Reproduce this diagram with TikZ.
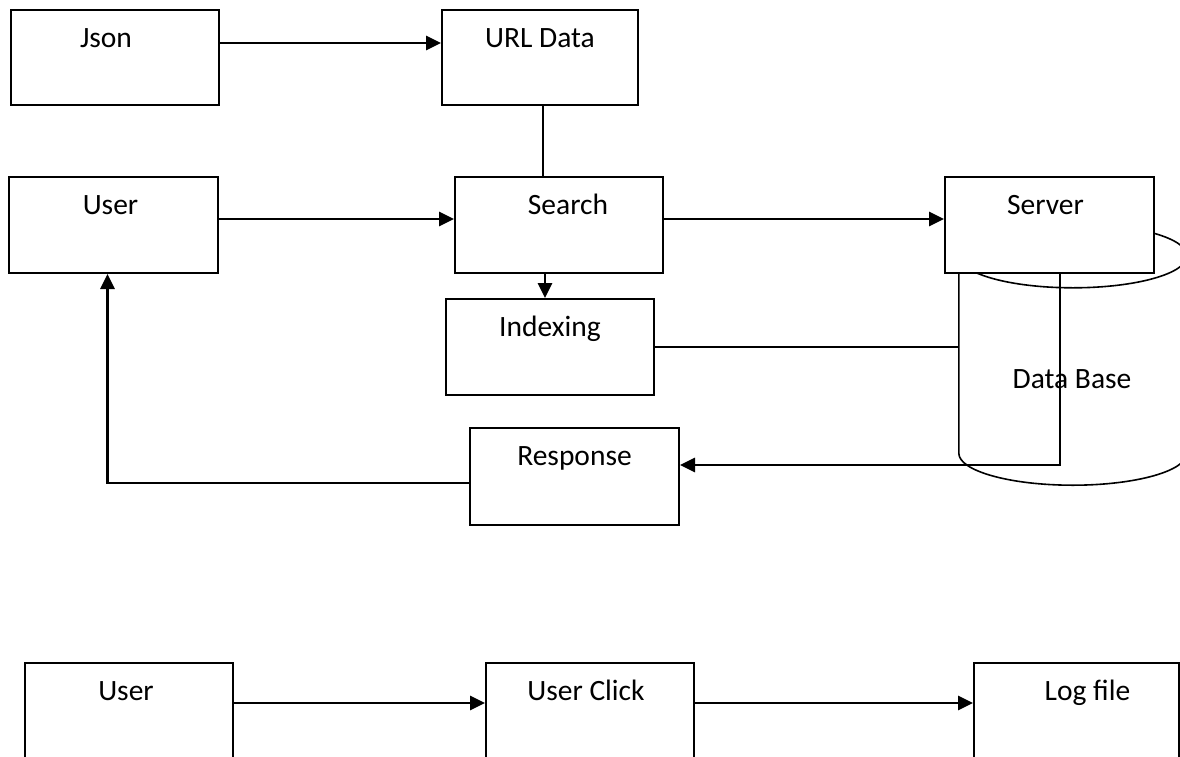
\documentclass[tikz,border=0pt]{standalone}
\usepackage{fontspec}
\setmainfont{Carlito}
\usetikzlibrary{arrows.meta}
\newcommand{\boxfont}{\fontsize{29.5}{35}\selectfont}
\tikzset{
	txt/.style={anchor=base, yshift=-38pt, font=\boxfont},
	box/.style 2 args={draw, fill=white, line width=2pt, anchor=north west, inner sep=0pt,
		label={[txt, xshift=#2]north:#1}},
	arr/.style={line width=2.7pt, -{Triangle[length=15pt, width=14pt]}},
	ln/.style={line width=2.4pt},
}
\begin{document}
\begin{tikzpicture}[x=1pt, y=-1pt]
	\useasboundingbox (0,0) rectangle (1180,756);
	% data base
	\node[inner sep=0pt, minimum width=228, minimum height=197] (db) at (1073,354.5) {};
	\draw[line width=1.6pt](db.north) ellipse[x radius=114pt, y radius=32pt];
	\draw[line width=1.6pt](db.north west)--(db.south west) arc[start angle=180, end angle=360, x radius=114pt, y radius=32pt]--(db.north east);
	\node[font=\boxfont, anchor=base] (dbtxt) at (1072,388) {Data Base};
	% top row
	\node[box={Json}{-9}, minimum width=208, minimum height=95] (json) at (10,9) {};
	\node[box={URL Data}{0}, minimum width=196, minimum height=95] (url) at (441,9) {};
	\draw[arr]([yshift=14.5]json.east)--([yshift=14.5]url.west);
	% search row
	\node[box={User}{-3}, minimum width=209, minimum height=96] (user) at (8,176) {};
	\node[box={Search}{9}, minimum width=208, minimum height=96] (search) at (454,176) {};
	\node[box={Server}{-4}, minimum width=209, minimum height=96] (server) at (944,176) {};
	\node[box={Indexing}{0}, minimum width=208, minimum height=96] (idx) at (445,298) {};
	\node[box={Response}{0}, minimum width=209, minimum height=97] (resp) at (469,427) {};
	\draw[ln]([xshift=3]url.south)--([xshift=3]url.south |- search.north);
	\draw[arr]([yshift=6]user.east)--([yshift=6]search.west);
	\draw[arr]([yshift=6]search.east)--([yshift=6]server.west);
	\draw[arr]([xshift=-14]search.south)--([xshift=-14]search.south |- idx.north);
	\draw[ln](idx.east)--(idx.east -| db.west);
	\draw[arr]([xshift=10.5]server.south)|-([yshift=11.5]resp.east);
	\draw[arr]([yshift=-6.5]resp.west)-|([xshift=-6]user.south);
	% bottom row
	\node[box={User}{-3}, minimum width=208, minimum height=96] (ubot) at (24,662) {};
	\node[box={User Click}{-4}, minimum width=208, minimum height=96] (click) at (485,662) {};
	\node[box={Log file}{11}, minimum width=205, minimum height=96] (log) at (973,662) {};
	\draw[arr]([yshift=8]ubot.east)--([yshift=8]click.west);
	\draw[arr]([yshift=8]click.east)--([yshift=8]log.west);
\end{tikzpicture}
\end{document}
